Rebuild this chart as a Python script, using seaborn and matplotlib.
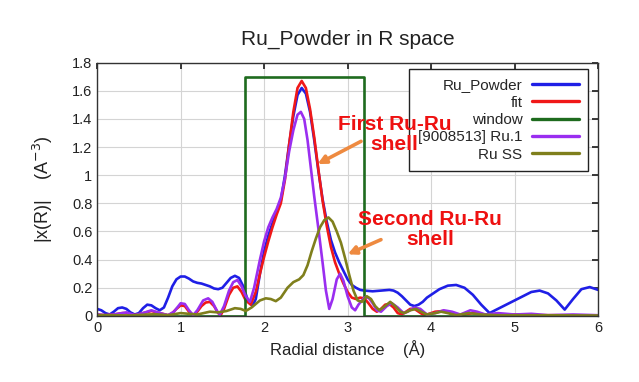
"""
Ru_Powder in R space - EXAFS fit plot
"""

import matplotlib
matplotlib.use("Agg")
import matplotlib.pyplot as plt
import seaborn as sns
import pandas as pd

# --- data ---
r_powder = [0.00, 0.05, 0.10, 0.15, 0.20, 0.25, 0.30, 0.35, 0.40, 0.45, 0.50, 0.55, 0.60, 0.65,
            0.70, 0.75, 0.80, 0.85, 0.90, 0.95, 1.00, 1.05, 1.10, 1.15, 1.20, 1.25, 1.30, 1.35,
            1.40, 1.45, 1.50, 1.55, 1.60, 1.65, 1.70, 1.75, 1.80, 1.86, 1.90, 1.95, 2.00, 2.05,
            2.10, 2.15, 2.20, 2.25, 2.30, 2.35, 2.40, 2.45, 2.50, 2.55, 2.60, 2.65, 2.70, 2.75,
            2.80, 2.85, 2.90, 2.95, 3.00, 3.05, 3.10, 3.15, 3.20, 3.30, 3.40, 3.50, 3.55, 3.60,
            3.65, 3.70, 3.75, 3.80, 3.85, 3.90, 3.95, 4.00, 4.10, 4.20, 4.30, 4.40, 4.50, 4.60,
            4.70, 4.80, 4.90, 5.00, 5.10, 5.20, 5.30, 5.40, 5.50, 5.60, 5.70, 5.80, 5.90, 6.00]
y_powder = [0.05, 0.04, 0.02, 0.01, 0.03, 0.055, 0.06, 0.05, 0.025, 0.01, 0.02, 0.055, 0.08, 0.075,
            0.055, 0.04, 0.06, 0.13, 0.21, 0.26, 0.28, 0.28, 0.265, 0.245, 0.235, 0.23, 0.22, 0.21,
            0.195, 0.19, 0.20, 0.235, 0.27, 0.285, 0.27, 0.21, 0.12, 0.07, 0.12, 0.30, 0.46, 0.57,
            0.66, 0.74, 0.82, 1.00, 1.22, 1.42, 1.57, 1.62, 1.58, 1.45, 1.25, 1.03, 0.83, 0.67,
            0.54, 0.45, 0.38, 0.32, 0.26, 0.22, 0.20, 0.185, 0.18, 0.175, 0.18, 0.185, 0.18, 0.165,
            0.14, 0.11, 0.08, 0.07, 0.08, 0.10, 0.13, 0.15, 0.19, 0.215, 0.22, 0.20, 0.15, 0.08,
            0.02, 0.05, 0.08, 0.11, 0.14, 0.17, 0.18, 0.16, 0.11, 0.045, 0.12, 0.19, 0.205, 0.185]

r_fit = [0.00, 0.10, 0.20, 0.30, 0.35, 0.45, 0.55, 0.65, 0.75, 0.85, 0.90, 0.95, 1.00, 1.05,
         1.10, 1.15, 1.20, 1.25, 1.30, 1.35, 1.40, 1.45, 1.48, 1.52, 1.58, 1.63, 1.68, 1.73,
         1.78, 1.84, 1.90, 1.95, 2.00, 2.05, 2.10, 2.15, 2.20, 2.25, 2.30, 2.35, 2.40, 2.45,
         2.50, 2.55, 2.60, 2.65, 2.70, 2.75, 2.80, 2.85, 2.90, 2.95, 3.00, 3.05, 3.10, 3.15,
         3.20, 3.25, 3.30, 3.35, 3.40, 3.45, 3.50, 3.55, 3.60, 3.65, 3.70, 3.75, 3.80, 3.85,
         3.90, 3.95, 4.05, 4.15, 4.25, 4.35, 4.50, 4.65, 4.80, 5.00, 5.20, 5.50, 6.00]
y_fit = [0.01, 0.005, 0.01, 0.02, 0.02, 0.005, 0.02, 0.035, 0.02, 0.005, 0.02, 0.05, 0.075, 0.07,
         0.03, 0.005, 0.03, 0.07, 0.095, 0.10, 0.07, 0.02, 0.005, 0.05, 0.15, 0.20, 0.21, 0.17,
         0.11, 0.08, 0.17, 0.30, 0.42, 0.53, 0.63, 0.72, 0.80, 0.97, 1.22, 1.45, 1.62, 1.67,
         1.62, 1.47, 1.27, 1.04, 0.82, 0.64, 0.49, 0.38, 0.30, 0.23, 0.17, 0.13, 0.12, 0.13,
         0.125, 0.09, 0.05, 0.03, 0.05, 0.08, 0.085, 0.06, 0.02, 0.01, 0.03, 0.05, 0.05, 0.03,
         0.01, 0.01, 0.03, 0.035, 0.015, 0.005, 0.02, 0.01, 0.005, 0.01, 0.005, 0.005, 0.003]

r_window = [0.0, 1.77, 1.77, 3.20, 3.20, 6.0]
y_window = [0.0, 0.0, 1.70, 1.70, 0.0, 0.0]

r_ru1 = [0.00, 0.10, 0.20, 0.35, 0.45, 0.55, 0.65, 0.75, 0.85, 0.92, 1.00, 1.05, 1.10, 1.15,
         1.20, 1.27, 1.33, 1.38, 1.44, 1.47, 1.52, 1.58, 1.63, 1.68, 1.73, 1.78, 1.83, 1.88,
         1.95, 2.00, 2.05, 2.10, 2.15, 2.20, 2.25, 2.30, 2.35, 2.40, 2.44, 2.48, 2.52, 2.56,
         2.60, 2.65, 2.70, 2.74, 2.78, 2.82, 2.87, 2.91, 2.95, 3.00, 3.05, 3.09, 3.13, 3.20,
         3.25, 3.30, 3.35, 3.40, 3.47, 3.53, 3.60, 3.67, 3.72, 3.80, 3.87, 3.95, 4.05, 4.15,
         4.25, 4.35, 4.47, 4.55, 4.65, 4.80, 5.00, 5.20, 5.40, 5.70, 6.00]
y_ru1 = [0.01, 0.005, 0.01, 0.025, 0.005, 0.02, 0.04, 0.02, 0.005, 0.03, 0.09, 0.085, 0.04, 0.005,
         0.04, 0.11, 0.125, 0.10, 0.03, 0.01, 0.07, 0.18, 0.24, 0.255, 0.21, 0.14, 0.10, 0.20,
         0.40, 0.53, 0.63, 0.70, 0.76, 0.84, 0.98, 1.17, 1.32, 1.43, 1.45, 1.40, 1.25, 1.05,
         0.85, 0.62, 0.38, 0.18, 0.05, 0.12, 0.26, 0.30, 0.25, 0.14, 0.06, 0.04, 0.08, 0.13,
         0.13, 0.09, 0.04, 0.03, 0.07, 0.09, 0.06, 0.02, 0.03, 0.06, 0.05, 0.01, 0.02, 0.04,
         0.03, 0.01, 0.04, 0.03, 0.01, 0.02, 0.01, 0.015, 0.005, 0.01, 0.005]

r_ss = [0.00, 0.20, 0.40, 0.60, 0.70, 0.85, 1.00, 1.10, 1.20, 1.35, 1.45, 1.55, 1.65, 1.72,
        1.78, 1.85, 1.95, 2.02, 2.08, 2.14, 2.20, 2.28, 2.35, 2.42, 2.47, 2.52, 2.57, 2.62,
        2.67, 2.72, 2.77, 2.82, 2.87, 2.92, 2.97, 3.02, 3.07, 3.12, 3.17, 3.23, 3.28, 3.33,
        3.38, 3.45, 3.51, 3.57, 3.63, 3.68, 3.75, 3.82, 3.88, 3.95, 4.05, 4.12, 4.20, 4.30,
        4.45, 4.60, 4.80, 5.20, 6.00]
y_ss = [0.005, 0.005, 0.003, 0.01, 0.012, 0.005, 0.02, 0.015, 0.01, 0.03, 0.025, 0.035, 0.055, 0.05,
        0.035, 0.06, 0.11, 0.125, 0.12, 0.105, 0.13, 0.20, 0.24, 0.26, 0.29, 0.36, 0.46, 0.55,
        0.63, 0.68, 0.70, 0.67, 0.60, 0.52, 0.41, 0.29, 0.18, 0.11, 0.10, 0.14, 0.12, 0.07,
        0.04, 0.07, 0.10, 0.07, 0.03, 0.02, 0.04, 0.05, 0.03, 0.01, 0.02, 0.03, 0.02, 0.005,
        0.02, 0.01, 0.005, 0.005, 0.003]

series_names = ["Ru_Powder", "fit", "window", "[9008513] Ru.1", "Ru SS"]
series_colors = ["#1f1fe6", "#f01818", "#1e6b1e", "#9a2ef0", "#7f7f1c"]


def main():
    parts = []
    for name, r, y in zip(series_names,
                          [r_powder, r_fit, r_window, r_ru1, r_ss],
                          [y_powder, y_fit, y_window, y_ru1, y_ss]):
        parts.append(pd.DataFrame({"R": r, "chi": y, "series": name}))
    df = pd.concat(parts, ignore_index=True)

    sns.set_theme(style="whitegrid")
    plt.rcParams["font.family"] = ["Liberation Sans", "DejaVu Sans"]

    fig = plt.figure(figsize=(6.39, 3.82), dpi=100)
    ax = fig.add_axes([0.152, 0.173, 0.784, 0.663])

    sns.lineplot(data=df, x="R", y="chi", hue="series", hue_order=series_names,
                 palette=series_colors, estimator=None, sort=False, linewidth=1.9, ax=ax)

    ax.set_xlim(0, 6)
    ax.set_ylim(0, 1.8)
    ax.set_xticks(range(0, 7))
    ax.set_yticks([0, 0.2, 0.4, 0.6, 0.8, 1.0, 1.2, 1.4, 1.6, 1.8])
    ax.set_yticklabels(["0", "0.2", "0.4", "0.6", "0.8", "1", "1.2", "1.4", "1.6", "1.8"])
    ax.tick_params(axis="both", labelsize=10.5, colors="#222222", direction="in",
                   length=4, top=True, right=True, labeltop=False, labelright=False)
    ax.grid(color="#d4d4d4", linewidth=0.8)
    for sp in ax.spines.values():
        sp.set_edgecolor("#333333")
        sp.set_linewidth(1.0)

    ax.set_title("Ru_Powder in R space", fontsize=15, pad=13, color="#222222")
    ax.set_xlabel("Radial distance    (Å)", fontsize=12, color="#222222", labelpad=4)
    ax.set_ylabel("|x(R)|    (A$^{-3}$)", fontsize=13, color="#222222", labelpad=12)

    leg = ax.legend(loc="upper right", bbox_to_anchor=(0.98, 0.975), markerfirst=False,
                    fontsize=11, frameon=True, fancybox=False, handlelength=3.1,
                    labelspacing=0.22, borderpad=0.6, handletextpad=0.6, borderaxespad=0.0)
    leg.get_frame().set_edgecolor("#222222")
    leg.get_frame().set_linewidth(1.0)
    leg.get_frame().set_alpha(1.0)
    for t in leg.get_texts():
        t.set_ha("right")
    leg._legend_box.align = "right"
    for h in leg.get_lines():
        h.set_linewidth(2.4)

    arrow = dict(arrowstyle="-|>", color="#ee8a40", lw=2.6, mutation_scale=12)
    ax.annotate("", xy=(2.61, 1.07), xytext=(3.19, 1.25), arrowprops=arrow)
    ax.annotate("", xy=(2.97, 0.43), xytext=(3.43, 0.55), arrowprops=arrow)
    ax.text(3.56, 1.29, "First Ru-Ru\nshell", color="#ee1111", fontsize=15,
            fontweight="bold", ha="center", va="center", linespacing=1.05, zorder=10)
    ax.text(3.99, 0.615, "Second Ru-Ru\nshell", color="#ee1111", fontsize=15,
            fontweight="bold", ha="center", va="center", linespacing=1.05, zorder=10)

    fig.savefig("out.png", dpi=100)


if __name__ == "__main__":
    main()
